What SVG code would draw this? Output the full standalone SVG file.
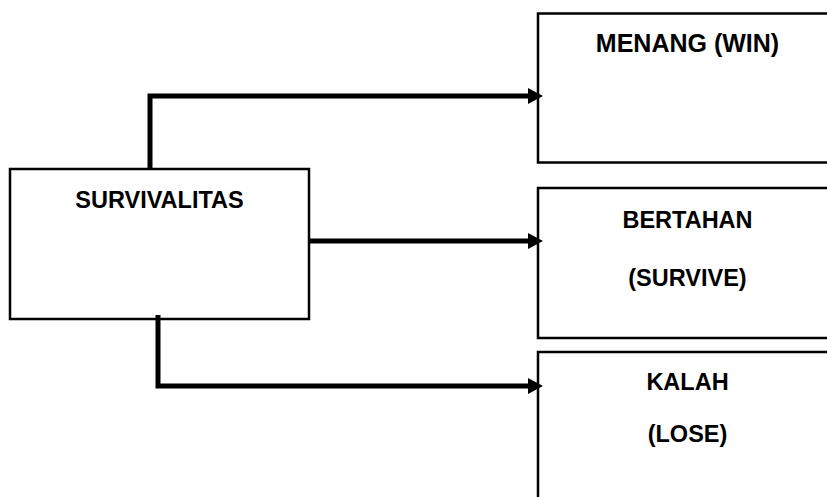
<svg xmlns="http://www.w3.org/2000/svg" width="827" height="497" viewBox="0 0 827 497">
<style>
.box{fill:#fff;stroke:#000;stroke-width:2.5}
.lbl{font-family:"Liberation Sans",Arial,sans-serif;font-weight:bold;fill:#000;text-anchor:middle}
.conn{fill:none;stroke:#000;stroke-width:5;stroke-linejoin:miter}
</style>
<defs>
<marker id="arr" markerUnits="userSpaceOnUse" markerWidth="16" markerHeight="18" refX="1" refY="8" orient="auto">
<path d="M0,0 L15,8 L0,16 Z" fill="#000"/>
</marker>
</defs>
<rect width="827" height="497" fill="#fff"/>
<g id="node-menang">
<rect class="box" x="538" y="13.5" width="300" height="149"/>
<text class="lbl" x="687.5" y="52" font-size="25">MENANG (WIN)</text>
</g>
<g id="node-survivalitas">
<rect class="box" x="10" y="169" width="299" height="150"/>
<text class="lbl" x="159.5" y="208" font-size="23.5">SURVIVALITAS</text>
</g>
<g id="node-bertahan">
<rect class="box" x="538" y="188" width="300" height="150"/>
<text class="lbl" x="687.5" y="228" font-size="23.5">BERTAHAN</text>
<text class="lbl" x="687.5" y="286" font-size="23.5">(SURVIVE)</text>
</g>
<g id="node-kalah">
<rect class="box" x="538" y="352" width="300" height="160"/>
<text class="lbl" x="687.5" y="390" font-size="23.5">KALAH</text>
<text class="lbl" x="687.5" y="442" font-size="23.5">(LOSE)</text>
</g>
<g id="connectors">
<path class="conn" d="M150,169 V96 H529" marker-end="url(#arr)"/>
<path class="conn" d="M310,241 H529" marker-end="url(#arr)"/>
<path class="conn" d="M158,315 V386 H529" marker-end="url(#arr)"/>
</g>
</svg>
